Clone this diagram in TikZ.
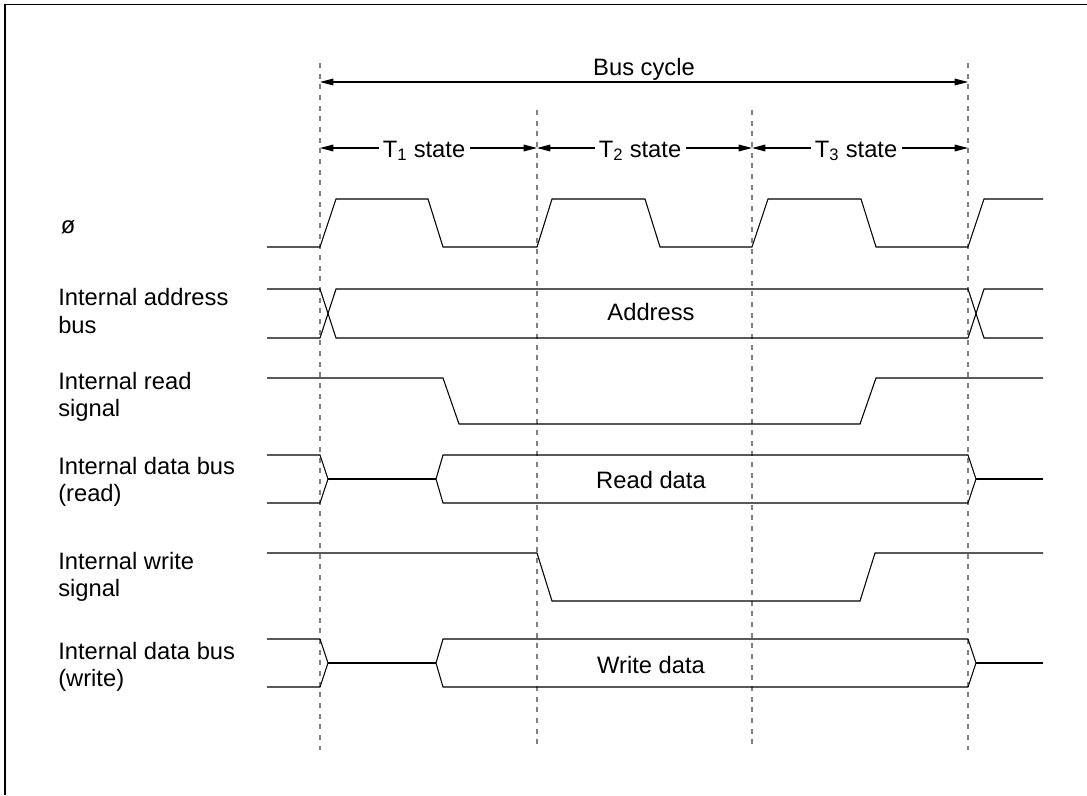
\documentclass[tikz,border=0pt]{standalone}
\usepackage{fontspec}
\setmainfont{Liberation Sans}
\usetikzlibrary{arrows.meta}
\begin{document}
\begin{tikzpicture}[x=0.75pt,y=-0.75pt,
  sig/.style={line width=0.8pt, line join=miter},
  guide/.style={draw=black!50, line width=0.9pt, dash pattern=on 3.75pt off 4.25pt},
  dimarrow/.style={line width=0.8pt, -{Triangle[length=10pt,width=5pt]}},
  bothdim/.style={line width=0.8pt, {Triangle[length=10pt,width=5pt]}-{Triangle[length=10pt,width=5pt]}},
  lbl/.style={font=\fontsize{17.8}{20.3}\selectfont, align=left, anchor=west, inner sep=0pt},
  txt/.style={font=\fontsize{17.8}{20.3}\selectfont, inner sep=3pt}]
\useasboundingbox (0,0) rectangle (1087,795);
\draw[line width=1.2pt] (1087,4.5) -- (5,4.5) -- (5,795);

% guide lines
\coordinate (g1t) at (320,63);  \coordinate (g1b) at (320,750);
\coordinate (g2t) at (537,110); \coordinate (g2b) at (537,750);
\coordinate (g3t) at (752,110); \coordinate (g3b) at (752,750);
\coordinate (g4t) at (968,63);  \coordinate (g4b) at (968,750);
\draw[guide] (g1t) -- (g1b);
\draw[guide] (g2t) -- (g2b);
\draw[guide] (g3t) -- (g3b);
\draw[guide] (g4t) -- (g4b);

% bus cycle
\node[txt, anchor=base] (bc) at (644,76) {Bus cycle};
\coordinate (bcl) at (320,82); \coordinate (bcr) at (968,82);
\draw[bothdim] (bcl) -- (bcr);

% states
\coordinate (a1) at (320,148); \coordinate (a2) at (537,148);
\coordinate (a3) at (752,148); \coordinate (a4) at (968,148);
\node[txt, anchor=base] (t1) at (424,157) {T\textsubscript{1} state};
\node[txt, anchor=base] (t2) at (640,157) {T\textsubscript{2} state};
\node[txt, anchor=base] (t3) at (856,157) {T\textsubscript{3} state};
\draw[dimarrow] (t1.west |- a1) -- (a1);
\draw[dimarrow] (t1.east |- a1) -- (a2);
\draw[dimarrow] (t2.west |- a2) -- (a2);
\draw[dimarrow] (t2.east |- a2) -- (a3);
\draw[dimarrow] (t3.west |- a3) -- (a3);
\draw[dimarrow] (t3.east |- a3) -- (a4);

% labels
\node[txt, anchor=base, inner sep=0pt] (phi) at (68,233) {ø};
\node[lbl] (la) at (58,311) {Internal address\\bus};
\node[lbl] (lr) at (58,397) {Internal read\\signal};
\node[lbl] (ldr) at (58,482) {Internal data bus\\(read)};
\node[lbl] (lw) at (58,577) {Internal write\\signal};
\node[lbl] (ldw) at (58,667) {Internal data bus\\(write)};

% clock
\draw[sig] (267,247) -- (320,247) -- (336,199) -- (428,199) -- (443,247) -- (537,247) -- (552,199) -- (645,199) -- (660,247) -- (752,247) -- (768,199) -- (861,199) -- (876,247) -- (968,247) -- (984,199) -- (1043,199);

% address bus
\draw[sig] (267,289) -- (320,289) -- (336,338) -- (968,338) -- (984,289) -- (1043,289);
\draw[sig] (267,338) -- (320,338) -- (336,289) -- (968,289) -- (984,338) -- (1043,338);
\node[txt] (addr) at (651,312) {Address};

% read signal
\draw[sig] (267,378) -- (443,378) -- (459,424) -- (860,424) -- (876,378) -- (1043,378);

% data bus read
\draw[sig] (267,455) -- (320,455) -- (328,479) -- (320,503) -- (267,503);
\draw[sig] (328,479) -- (436,479);
\draw[sig] (436,479) -- (443,455) -- (968,455) -- (976,479) -- (968,503) -- (443,503) -- cycle;
\draw[sig] (976,479) -- (1043,479);
\node[txt] (rd) at (651,480) {Read data};

% write signal
\draw[sig] (267,553) -- (537,553) -- (552,601) -- (860,601) -- (875,553) -- (1043,553);

% data bus write
\draw[sig] (267,639) -- (320,639) -- (328,663) -- (320,687) -- (267,687);
\draw[sig] (328,663) -- (436,663);
\draw[sig] (436,663) -- (443,639) -- (968,639) -- (976,663) -- (968,687) -- (443,687) -- cycle;
\draw[sig] (976,663) -- (1043,663);
\node[txt] (wd) at (651,665) {Write data};
\end{tikzpicture}
\end{document}
